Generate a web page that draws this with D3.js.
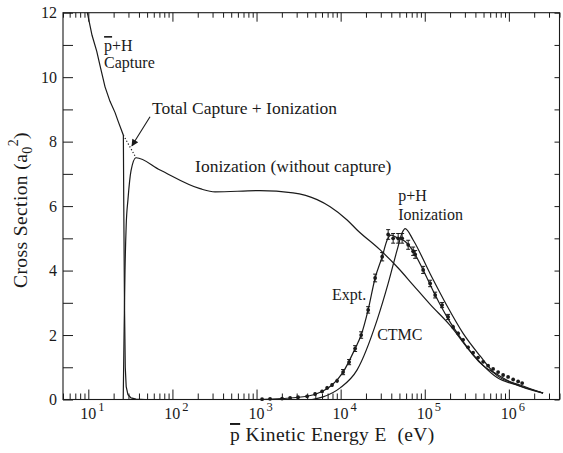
<!DOCTYPE html>
<html><head><meta charset="utf-8">
<script src="https://cdn.jsdelivr.net/npm/d3@7"></script>
<style>
body{margin:0;background:#fff}
svg{display:block}
text{font-family:"Liberation Serif","Tinos","DejaVu Serif",serif;fill:#1a1a1a}
</style>
</head><body>
<svg id="c" width="563" height="453" font-family="Liberation Serif, Tinos, DejaVu Serif, serif"></svg>
<script>
// ---- data (energy in eV, cross section in a0^2) ----
const captureE=[9.73,11.07,12.6,13.8,15.8,18.1,20.8,22.7,26.1,26.4,26.9,27.5,28.2,29.6,32.2,36.9,47.2];
const captureV=[12.0,11.3,10.8,10.35,9.7,9.25,8.9,8.62,8.2,6.0,3.0,1.0,0.4,0.15,0.05,0.01,0];

const ionE=[26.0,26.6,27.3,28.2,29.6,32.2,36.9,71.3,213,321,1099,2716,5250,7500,11940,15700,29500,48300,72800,115900,200000,346000,724400,1.361e6,2.553e6];
const ionV=[0,2.0,4.0,5.4,6.2,7.1,7.5,7.12,6.54,6.44,6.48,6.41,6.2,5.98,5.57,5.26,4.64,4.08,3.55,2.95,2.3,1.5,0.68,0.42,0.2];

const totalE=[26.1,36.9];
const totalV=[8.2,7.5];

const exptLineE=[1014,2011,3990,6012,7907,10690,14860,17530,21230,25700,31180,35730,39900,46970,58480,72800,95700,133000,189500,285800,375800,494300,724400,1.125e6,2.553e6];
const exptLineV=[0,0.03,0.1,0.25,0.45,0.85,1.58,2.0,2.78,3.77,4.43,4.95,5.1,5.02,4.9,4.6,4.02,3.24,2.5,1.8,1.38,1.05,0.78,0.5,0.2];

const ctmcE=[4571,6180,9863,15700,27160,36730,46970,53830,58480,72800,115900,184400,285800,455000,724400,1.361e6,2.553e6];
const ctmcV=[0,0.08,0.36,0.92,2.47,3.6,4.64,5.17,5.3,4.95,3.9,2.9,2.05,1.35,0.74,0.45,0.2];

const exptE=[1164,1449,2011,2506,3119,3990,4966,6012,6902,7907,9077,10690,12610,14860,17530,21230,25700,31180,36730,42100,48300,53830,63530,72800,76900,95700,115900,133000,160700,189500,217300,249400,285800,327600,375800,430500,494300,566200,650100,744700,854600,979000,1.125e6,1.289e6,1.439e6];
const exptV=[0.01,0.02,0.03,0.05,0.07,0.1,0.17,0.25,0.36,0.45,0.58,0.85,1.16,1.58,2.0,2.78,3.77,4.43,5.12,5.0,5.0,5.0,4.8,4.6,4.5,4.02,3.6,3.24,2.93,2.56,2.25,2.05,1.85,1.62,1.45,1.3,1.17,1.05,0.95,0.85,0.76,0.7,0.62,0.56,0.51];
const exptErr=[0.02,0.02,0.02,0.03,0.03,0.04,0.05,0.05,0.06,0.06,0.07,0.08,0.08,0.09,0.1,0.1,0.12,0.13,0.15,0.15,0.15,0.15,0.14,0.13,0.12,0.11,0.1,0.09,0.08,0.08,0.07,0.06,0.06,0.05,0.05,0.04,0.04,0.04,0.03,0.03,0.03,0.03,0.03,0.03,0.03];

const xMajor=[10,100,1e3,1e4,1e5,1e6];
const xMajorExp=["1","2","3","4","5","6"];
const yTicks=[0,1,2,3,4,5,6,7,8,9,10,11,12];
const yLabels=["0","","2","","4","","6","","8","","10","","12"];

// annotations (data coordinates)
const annE=[15.4,15.4,57.2,186,48300,48300,7907,27160];
const annV=[10.81,10.29,8.86,7.06,6.16,5.57,3.09,1.85];
const annT=["p+H","Capture","Total Capture + Ionization","Ionization (without capture)","p+H","Ionization","Expt.","CTMC"];
const arrowE=[54.2,33];
const arrowV=[8.77,7.87];

// ---- drawing ----
const svg=d3.select('#c');
const x=d3.scaleLog().domain([5,4e6]).range([63,559.5]);
const y=d3.scaleLinear().domain([0,12]).range([399.5,12.7]);
const ink="#1a1a1a";

const allTicks=x.ticks();
const minor=allTicks.filter(t=>!xMajor.includes(t));

function styleAxis(g){g.select('.domain').remove();g.selectAll('line').attr('stroke',ink);g.selectAll('text').remove();}

svg.append('g').attr('transform',`translate(0,${y(0)})`).call(d3.axisBottom(x).tickValues(minor).tickSize(-6).tickFormat('')).call(styleAxis);
svg.append('g').attr('transform',`translate(0,${y(0)})`).call(d3.axisBottom(x).tickValues(xMajor).tickSize(-10).tickFormat('')).call(styleAxis);
svg.append('g').attr('transform',`translate(0,${y(12)})`).call(d3.axisTop(x).tickValues(minor).tickSize(-5).tickFormat('')).call(styleAxis);
svg.append('g').attr('transform',`translate(0,${y(12)})`).call(d3.axisTop(x).tickValues(xMajor).tickSize(-9).tickFormat('')).call(styleAxis);
svg.append('g').attr('transform',`translate(${x.range()[0]},0)`).call(d3.axisLeft(y).tickValues(yTicks).tickSize(-10).tickFormat('')).call(styleAxis);
svg.append('g').attr('transform',`translate(${x.range()[1]},0)`).call(d3.axisRight(y).tickValues(yTicks).tickSize(-5).tickFormat('')).call(styleAxis);

// frame
svg.append('rect').attr('x',x.range()[0]).attr('y',y(12)).attr('width',x.range()[1]-x.range()[0]).attr('height',y(0)-y(12))
  .attr('fill','none').attr('stroke',ink).attr('stroke-width',1.1);

// x tick labels
xMajor.forEach((v,i)=>{
  const t=svg.append('text').attr('x',x(v)+4).attr('y',419).attr('text-anchor','middle').style('font-size','16px');
  t.append('tspan').text('10');
  t.append('tspan').attr('dx',2).attr('dy',-8).style('font-size','12.5px').text(xMajorExp[i]);
});
// y tick labels
yTicks.forEach((v,i)=>{
  if(!yLabels[i])return;
  svg.append('text').attr('x',57).attr('y',y(v)).attr('dy','0.35em').attr('text-anchor','end').style('font-size','16px').text(yLabels[i]);
});

// axis titles
const xt=svg.append('text').attr('x',230).attr('y',441).style('font-size','19.5px').style('letter-spacing','0.4px');
xt.append('tspan').style('text-decoration','overline').text('p');
xt.append('tspan').text(' Kinetic Energy E\u00a0 (eV)');
const yt=svg.append('text').attr('transform','translate(27,210) rotate(-90)').attr('text-anchor','middle').style('font-size','19.5px').style('letter-spacing','0.4px');
yt.append('tspan').text('Cross Section (a');
yt.append('tspan').attr('dy',5).style('font-size','14px').text('0');
yt.append('tspan').attr('dy',-14).style('font-size','14px').text('2');
yt.append('tspan').attr('dy',9).text(')');

// curves
const zip=(a,b)=>a.map((v,i)=>[v,b[i]]);
const plotG=svg.append('g');
function curve(E,V,dash,cv){
  const line=d3.line().x(d=>x(d[0])).y(d=>y(d[1])).curve(cv||d3.curveMonotoneX);
  plotG.append('path').datum(zip(E,V)).attr('d',line).attr('fill','none').attr('stroke',ink).attr('stroke-width',1.2)
    .attr('stroke-dasharray',dash||null);
}
curve(captureE,captureV,null,d3.curveLinear);
curve(ionE,ionV);
curve(totalE,totalV,'1.2,2',d3.curveLinear);
curve(exptLineE,exptLineV);
curve(ctmcE,ctmcV);

// expt points with error bars
const pts=zip(exptE,exptV).map((d,i)=>({E:d[0],v:d[1],e:exptErr[i]}));
const pg=plotG.selectAll('g.pt').data(pts).join('g').attr('class','pt');
pg.append('line').attr('x1',d=>x(d.E)).attr('x2',d=>x(d.E)).attr('y1',d=>y(d.v-d.e)).attr('y2',d=>y(d.v+d.e)).attr('stroke',ink).attr('stroke-width',1);
pg.filter(d=>d.e>=0.08).each(function(d){
  const g=d3.select(this);
  [d.v-d.e,d.v+d.e].forEach(vv=>g.append('line').attr('x1',x(d.E)-2).attr('x2',x(d.E)+2).attr('y1',y(vv)).attr('y2',y(vv)).attr('stroke',ink).attr('stroke-width',1));
});
pg.append('circle').attr('cx',d=>x(d.E)).attr('cy',d=>y(d.v)).attr('r',1.9).attr('fill',ink);

// annotations
const sizes=[16,16,17.5,17.5,16,16,16,16];
annT.forEach((t,i)=>{
  const el=svg.append('text').attr('x',x(annE[i])).attr('y',y(annV[i])).style('font-size',sizes[i]+'px');
  if(i===0){el.append('tspan').style('text-decoration','overline').text('p');el.append('tspan').text('+H');}
  else el.text(t);
});

// arrow
svg.append('defs').append('marker').attr('id','ah').attr('viewBox','0 0 10 10').attr('refX',9).attr('refY',5)
  .attr('markerWidth',9).attr('markerHeight',7).attr('orient','auto').attr('markerUnits','userSpaceOnUse')
  .append('path').attr('d','M0,0 L10,5 L0,10 Z').attr('fill',ink);
svg.append('line').attr('x1',x(arrowE[0])).attr('y1',y(arrowV[0])).attr('x2',x(arrowE[1])).attr('y2',y(arrowV[1]))
  .attr('stroke',ink).attr('stroke-width',1.1).attr('marker-end','url(#ah)');
</script>
</body></html>
